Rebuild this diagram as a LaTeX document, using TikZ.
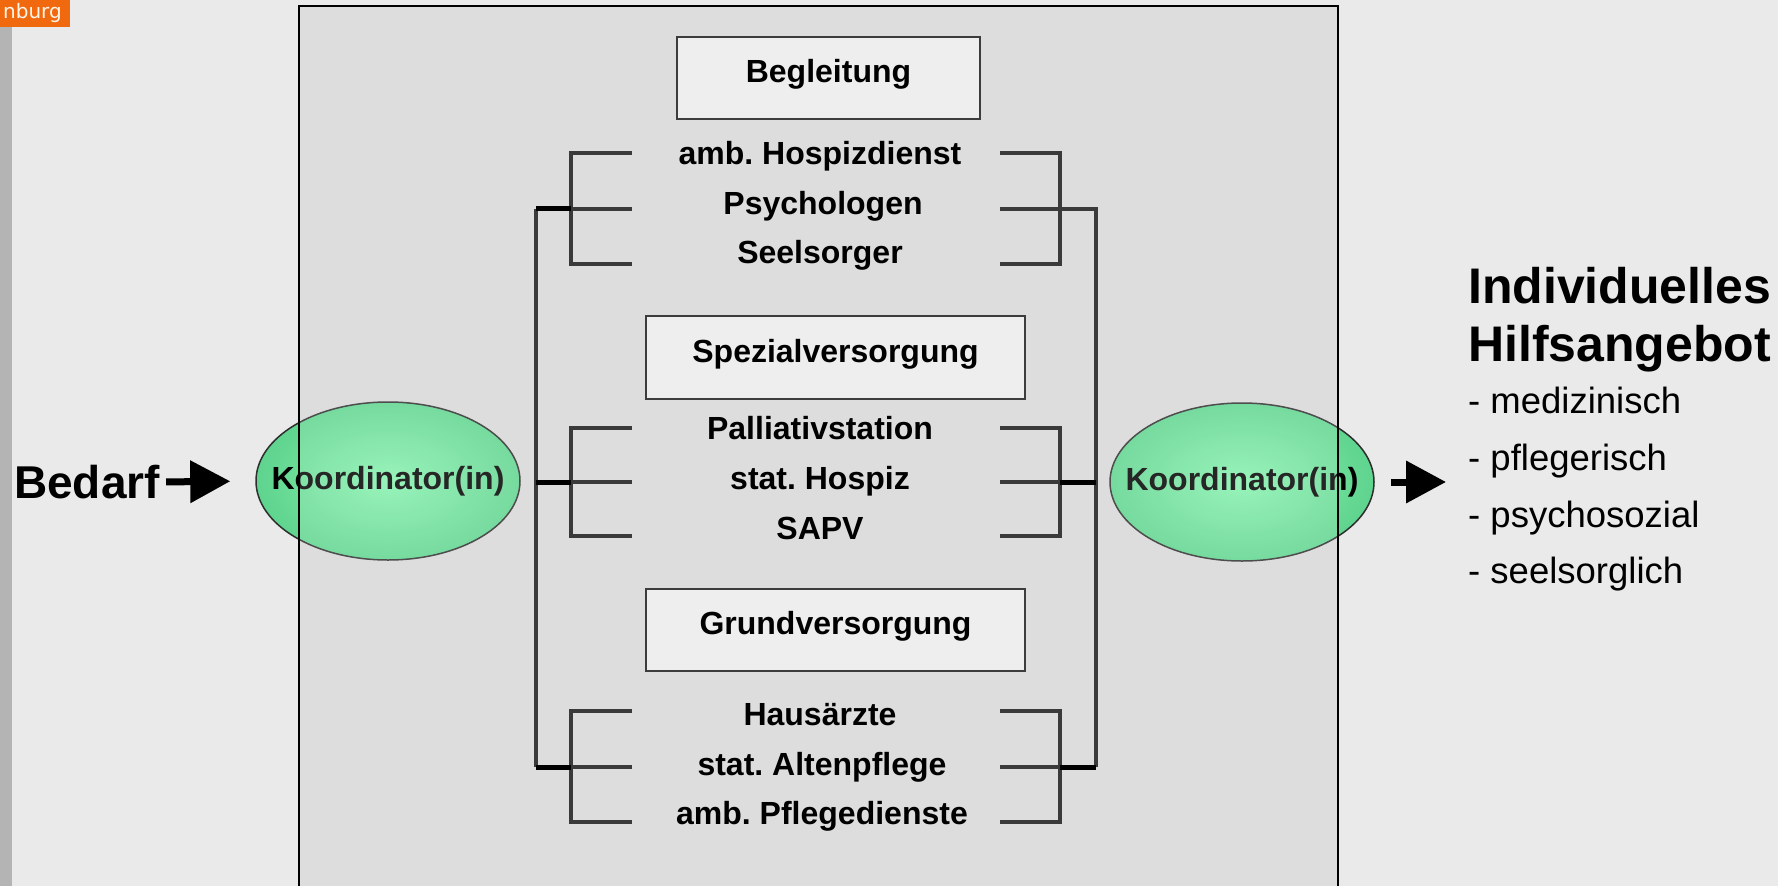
\documentclass[tikz,border=0pt]{standalone}
\usepackage{fontspec}
\setmainfont{Liberation Sans}
\newfontfamily\tabfont{DejaVu Sans}
\usetikzlibrary{shapes.geometric,arrows.meta}
\definecolor{bgc}{HTML}{EAEAEA}
\definecolor{barc}{HTML}{B4B4B4}
\definecolor{tabc}{HTML}{F0690F}
\definecolor{tabtext}{HTML}{FFF4E8}
\definecolor{framec}{HTML}{D8D8D8}
\definecolor{boxfill}{HTML}{EEEEEE}
\definecolor{boxborder}{HTML}{3C3C3C}
\definecolor{brkc}{HTML}{3A3A3A}
\definecolor{ellin}{HTML}{86F2AE}
\definecolor{ellout}{HTML}{5FD48E}
\definecolor{elldraw}{HTML}{2E2E2E}
\frenchspacing
\begin{document}
\begin{tikzpicture}[x=1pt,y=-1pt,
  koord/.style={ellipse, draw=elldraw, line width=1.5pt, inner color=ellin, outer color=ellout,
    minimum width=264pt, minimum height=158pt, inner sep=0pt},
  ktext/.style={inner sep=0pt, font=\bfseries\fontsize{32}{32}\selectfont},
  box/.style={draw=boxborder, line width=2pt, fill=boxfill, inner sep=0pt,
    text height=23pt, text depth=14pt, font=\bfseries\fontsize{32}{32}\selectfont},
  item/.style={anchor=base, inner sep=0pt, font=\bfseries\fontsize{32}{32}\selectfont},
  brk/.style={draw=brkc, line width=4pt},
  stub/.style={draw=black, line width=5pt},
  bigarrow/.style={line width=7pt, -{Triangle[length=40pt,width=41pt]}},
  head/.style={anchor=base west, inner sep=0pt, font=\bfseries\fontsize{50}{50}\selectfont},
  lst/.style={anchor=base west, inner sep=0pt, font=\fontsize{36.5}{36.5}\selectfont}
]
\useasboundingbox (0,0) rectangle (1778,886);
\fill[bgc] (0,0) rectangle (1778,886);
\fill[barc] (0,27) rectangle (12,886);
\fill[tabc] (0,0) rectangle (70,27);
\node[anchor=base east, text=tabtext, inner sep=0pt, font=\tabfont\fontsize{20}{20}\selectfont] (tab) at (62,19) {nburg};

% frame
\fill[framec] (299,6) rectangle (1338,900);

% coordinators
\node[koord] (koordL) at (388,481) {};
\node[ktext] (kL) at (koordL.center) {Koordinator(in)};
\node[koord] (koordR) at (1242,482) {};
\node[ktext] (kR) at (koordR.center) {Koordinator(in)};

% overlay + frame border
\fill[white, opacity=0.15] (299,6) rectangle (1338,900);
\draw[black, line width=2pt] (299,900) -- (299,6) -- (1338,6) -- (1338,900);

% boxes
\node[box, minimum width=303pt, minimum height=82pt] (begl) at (828.5,78) {Begleitung};
\node[box, minimum width=379pt, minimum height=83pt] (spez) at (835.5,357.5) {Spezialversorgung};
\node[box, minimum width=379pt, minimum height=82pt] (grund) at (835.5,630) {Grundversorgung};

% items
\node[item] (a1) at (820,164) {amb. Hospizdienst};
\node[item] (a2) at (823,214) {Psychologen};
\node[item] (a3) at (820,263) {Seelsorger};
\node[item] (b1) at (820,439) {Palliativstation};
\node[item] (b2) at (820,489) {stat. Hospiz};
\node[item] (b3) at (820,539) {SAPV};
\node[item] (c1) at (820,725) {Hausärzte};
\node[item] (c2) at (822,775) {stat. Altenpflege};
\node[item] (c3) at (822,824) {amb. Pflegedienste};

% left brackets
\foreach \a/\b/\c in {153/208.5/264, 427.5/482/536, 711/767/822}{
  \draw[brk] (632,\a) -- (571,\a) -- (571,\c) -- (632,\c);
  \draw[brk] (571,\b) -- (632,\b);
}
\coordinate (LT) at (536,208.5);
\coordinate (LM) at (536,482);
\coordinate (LB) at (536,767);
\draw[brk] (LT) -- (LB);
\draw[stub] (LT) -- (571,208.5);
\draw[stub] (LM) -- (571,482);
\draw[stub] (LB) -- (571,767);

% right brackets
\foreach \a/\b/\c in {153/208.5/264, 427.5/482/536, 711/767/822}{
  \draw[brk] (1000,\a) -- (1060,\a) -- (1060,\c) -- (1000,\c);
  \draw[brk] (1000,\b) -- (1060,\b);
}
\coordinate (RT) at (1096,208.5);
\coordinate (RM) at (1096,482);
\coordinate (RB) at (1096,767);
\draw[brk] (1060,208.5) -- (RT) -- (RB);
\draw[stub] (1060,482) -- (RM);
\draw[stub] (1060,767) -- (RB);

% left input
\node[anchor=west, inner sep=0pt, font=\bfseries\fontsize{46}{46}\selectfont] (bedarf) at (14,482) {Bedarf};
\draw[bigarrow, shorten <=6pt, shorten >=25pt] (bedarf.east) -- (koordL.west);

% right output
\coordinate (out) at (1446,482);
\draw[bigarrow, shorten <=16pt] (koordR.east) -- (out);

\node[head] (h1) at (1468,303) {Individuelles};
\node[head] (h2) at (1468,361) {Hilfsangebot};
\node[lst] (l1) at (1468,413) {- medizinisch};
\node[lst] (l2) at (1468,470) {- pflegerisch};
\node[lst] (l3) at (1468,527) {- psychosozial};
\node[lst] (l4) at (1468,583) {- seelsorglich};
\end{tikzpicture}
\end{document}
